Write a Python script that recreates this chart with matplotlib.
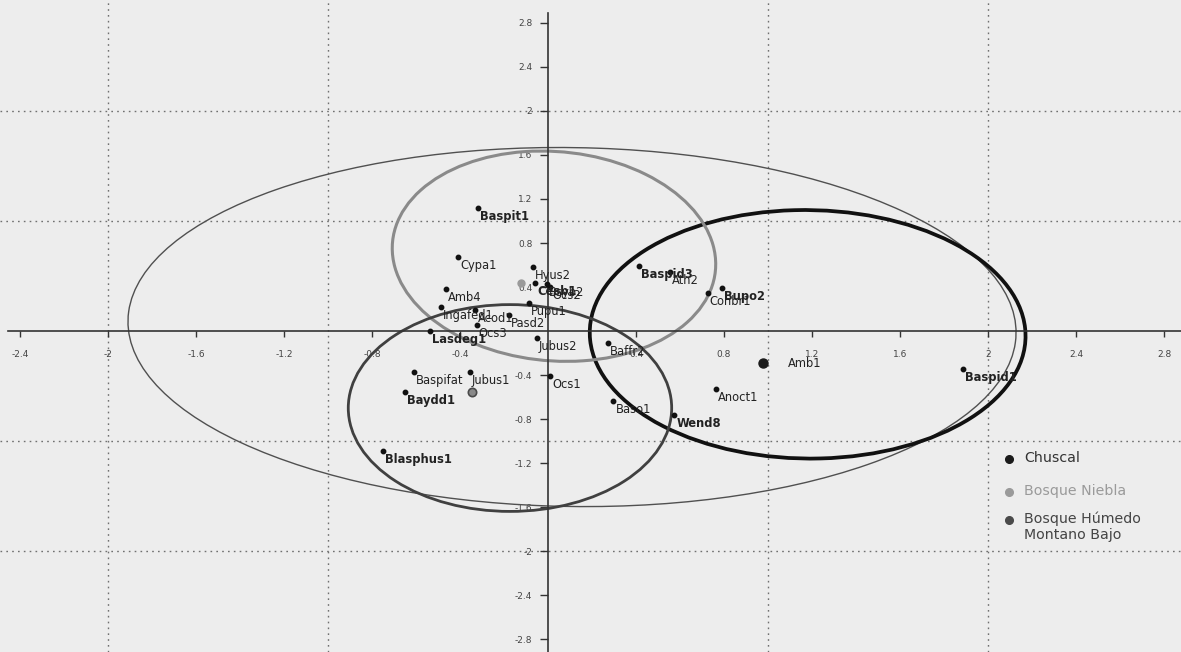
import matplotlib
matplotlib.use("Agg")
import matplotlib.pyplot as plt
from matplotlib.patches import Ellipse
from matplotlib.lines import Line2D

plt.rcParams['font.family'] = ['DejaVu Sans']

# Species scores on the first two ordination axes
species = ["Baspit1", "Cypa1", "Hyus2", "Cesb1", "Bsyb2", "Ocs2", "Amb4",
           "Ingafed1", "Acod1", "Pupu1", "Pasd2", "Ocs3", "Lasdeg1", "Jubus2",
           "Baffr2", "Baspifat", "Jubus1", "Baydd1", "Blasphus1", "Ocs1",
           "Conbr1", "Bupo2", "Baspid3", "Ath2", "Amb1", "Anoct1", "Baso1",
           "Wend8", "Baspid1"]
axis1 = [-0.320, -0.408, -0.070, -0.059, -0.006, 0.009, -0.464,
         -0.488, -0.330, -0.086, -0.177, -0.324, -0.536, -0.051,
         0.273, -0.608, -0.355, -0.650, -0.749, 0.009,
         0.726, 0.790, 0.414, 0.555, 0.976, 0.764, 0.297,
         0.573, 1.885]
axis2 = [1.115, 0.675, 0.580, 0.434, 0.425, 0.403, 0.382,
         0.215, 0.190, 0.255, 0.145, 0.055, 0.000, -0.064,
         -0.109, -0.370, -0.370, -0.552, -1.090, -0.409,
         0.343, 0.394, 0.590, 0.536, -0.294, -0.530, -0.636,
         -0.764, -0.348]
overprinted = ["Baspit1", "Cesb1", "Lasdeg1", "Baydd1", "Blasphus1",
               "Bupo2", "Baspid3", "Wend8", "Baspid1"]

# Group centroids
groups = ["Chuscal", "Bosque Niebla", "Bosque Húmedo\nMontano Bajo"]
group_x = [0.976, -0.123, -0.347]
group_y = [-0.294, 0.436, -0.552]
group_colors = ["#1a1a1a", "#9a9a9a", "#4a4a4a"]

# Confidence ellipses: all sites, Chuscal, Bosque Niebla, Bosque Húmedo
ell_cx = [0.109, 1.180, 0.027, -0.173]
ell_cy = [0.036, -0.030, 0.680, -0.700]
ell_w = [4.04, 1.98, 1.46, 1.47]
ell_h = [3.26, 2.26, 1.92, 1.88]
ell_angle = [-4, 3, 8, 0]

tick_values = [-2.8, -2.4, -2, -1.6, -1.2, -0.8, -0.4, 0.4, 0.8, 1.2, 1.6,
               2, 2.4, 2.8]
tick_labels = ["-2.8", "-2.4", "-2", "-1.6", "-1.2", "-0.8", "-0.4", "0.4",
               "0.8", "1.2", "1.6", "2", "2.4", "2.8"]
grid_values = [-2, -1, 1, 2]

bg = "#ededed"
fig = plt.figure(figsize=(11.81, 6.52), dpi=100, facecolor=bg)
ax = fig.add_axes([0, 0, 1, 1], facecolor=bg)
ax.set_xlim(-2.491, 2.877)
ax.set_ylim(-2.918, 3.009)

# Axes crossing at the origin
for side in ("top", "right"):
    ax.spines[side].set_visible(False)
ax.spines["left"].set_position(("data", 0))
ax.spines["bottom"].set_position(("data", 0))
ax.spines["left"].set_bounds(-2.918, 2.89)
ax.spines["bottom"].set_bounds(-2.455, 2.877)
for side in ("left", "bottom"):
    ax.spines[side].set_color("#333333")
    ax.spines[side].set_linewidth(1.2)
    ax.spines[side].set_zorder(3)

ax.set_xticks(tick_values[1:])
ax.set_xticklabels(tick_labels[1:])
ax.set_yticks(tick_values)
ax.set_yticklabels(tick_labels)
ax.xaxis.set_ticks_position("bottom")
ax.yaxis.set_ticks_position("left")
ax.tick_params(axis="x", direction="out", length=4.5, width=1, pad=9,
               labelsize=6.5, colors="#333333", labelcolor="#444444")
ax.tick_params(axis="y", direction="out", length=5.8, width=1, pad=5.5,
               labelsize=6.5, colors="#333333", labelcolor="#444444")
for lbl in ax.get_xticklabels() + ax.get_yticklabels():
    lbl.set_clip_on(False)

# Dotted reference grid
for v in grid_values:
    ax.axvline(v, color="#707070", lw=1.0, ls=(0, (1.2, 3)), zorder=1)
    ax.axhline(v, color="#707070", lw=1.0, ls=(0, (1.2, 3)), zorder=1)

ell_colors = ["#505050", "#111111", "#8a8a8a", "#404040"]
ell_widths = [1.0, 2.7, 2.2, 2.0]
for cx, cy, w, h, a, c, lw in zip(ell_cx, ell_cy, ell_w, ell_h, ell_angle,
                                  ell_colors, ell_widths):
    ax.add_patch(Ellipse((cx, cy), w, h, angle=a, fill=False,
                         edgecolor=c, lw=lw, zorder=2))

# Species points and labels
ax.plot(axis1, axis2, "o", ms=3.2, color="#111111", zorder=5, ls="")
label_offsets = {"Amb1": (18, 0, "center")}
for name, x, y in zip(species, axis1, axis2):
    dx, dy, va = label_offsets.get(name, (1.5, -1.5, "top"))
    ax.annotate(name, (x, y), xytext=(dx, dy), textcoords="offset points",
                ha="left", va=va, fontsize=8.3, color="#222222",
                fontweight="bold" if name in overprinted else "normal",
                zorder=6)

# Group centroids
ax.plot(group_x[0], group_y[0], "o", ms=6.5, color=group_colors[0], zorder=6)
ax.plot(group_x[1], group_y[1], "o", ms=5, color=group_colors[1], zorder=6)
ax.plot(group_x[2], group_y[2], "o", ms=6, mfc="#8a8a8a",
        mec=group_colors[2], mew=1.2, zorder=6)

# Legend
legend_y = [459, 492, 520]
text_colors = ["#333333", "#9a9a9a", "#444444"]
W, H = 1181, 652
for label, col, tcol, ypx in zip(groups, group_colors, text_colors, legend_y):
    fig.add_artist(Line2D([1009 / W], [1 - ypx / H], marker="o", ms=5.5,
                          color=col, ls="", transform=fig.transFigure))
    fig.text(1024 / W, 1 - (ypx - 8) / H, label, ha="left", va="top",
             fontsize=10.2, color=tcol, linespacing=1.15)

fig.savefig("out.png", dpi=100, facecolor=bg)
